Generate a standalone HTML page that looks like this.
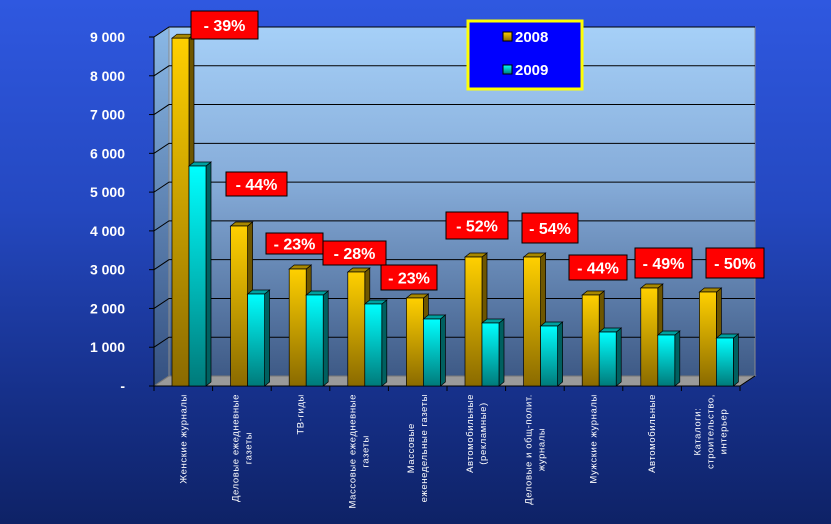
<!DOCTYPE html>
<html><head><meta charset="utf-8">
<style>
html,body{margin:0;padding:0;width:831px;height:524px;overflow:hidden;}
body{background:linear-gradient(to bottom,#2f58e0 0%,#2448c0 40%,#16308a 75%,#0e2266 100%);font-family:"Liberation Sans",sans-serif;}
svg{position:absolute;left:0;top:0;}
</style></head>
<body>
<svg id="chart" width="831" height="524" viewBox="0 0 831 524">
<defs>
<linearGradient id="wallG" x1="0" y1="0" x2="0" y2="1">
<stop offset="0" stop-color="#a6d0f8"/><stop offset="0.45" stop-color="#85abd8"/><stop offset="1" stop-color="#3e5a86"/></linearGradient>
<linearGradient id="leftG" x1="0" y1="0" x2="0" y2="1">
<stop offset="0" stop-color="#8ab8e6"/><stop offset="1" stop-color="#345080"/></linearGradient>
<linearGradient id="g08" x1="0" y1="0" x2="0" y2="1">
<stop offset="0" stop-color="#ffd000"/><stop offset="1" stop-color="#8a6a00"/></linearGradient>
<linearGradient id="g09" x1="0" y1="0" x2="0" y2="1">
<stop offset="0" stop-color="#00ffff"/><stop offset="1" stop-color="#007a7a"/></linearGradient>
</defs>
<g id="frame"></g>
<g id="bars"></g>
<g id="labels"></g>
</svg>
<script>
const categories = [["Женские журналы"],["Деловые ежедневные","газеты"],["ТВ-гиды"],["Массовые ежедневные","газеты"],["Массовые","еженедельные газеты"],["Автомобильные","(рекламные)"],["Деловые и общ-полит.","журналы"],["Мужские журналы"],["Автомобильные"],["Каталоги:","строительство,","интерьер"]];
const values2008 = [8970, 4126, 3017, 2940, 2270, 3326, 3326, 2347, 2527, 2424];
const values2009 = [5673, 2372, 2347, 2115, 1728, 1625, 1547, 1392, 1315, 1238];
const changeLabels = ["- 39%","- 44%","- 23%","- 28%","- 23%","- 52%","- 54%","- 44%","- 49%","- 50%"];
const yTicks = [0,1000,2000,3000,4000,5000,6000,7000,8000,9000];
const yTickLabels = ["-","1 000","2 000","3 000","4 000","5 000","6 000","7 000","8 000","9 000"];

const NS="http://www.w3.org/2000/svg";
const X0=154, X1=740, Y0=386, YMAX=9000, PH=349, DX=15, DY=10;
const cw=(X1-X0)/categories.length;
function yv(v){return Y0 - v*PH/YMAX;}
function xc(i){return X0 + i*cw;}
function mk(tag,attrs,parent){const e=document.createElementNS(NS,tag);for(const k in attrs)e.setAttribute(k,attrs[k]);parent.appendChild(e);return e;}
const frame=document.getElementById('frame'), bars=document.getElementById('bars'), labels=document.getElementById('labels');

let w=mk('polygon',{points:`${X0+DX},${yv(YMAX)-DY} ${X1+DX},${yv(YMAX)-DY} ${X1+DX},${Y0-DY} ${X0+DX},${Y0-DY}`,fill:'url(#wallG)',stroke:'#8a8a8a','stroke-width':1},frame);


let lw=mk('polygon',{points:`${X0},${yv(YMAX)} ${X0+DX},${yv(YMAX)-DY} ${X0+DX},${Y0-DY} ${X0},${Y0}`,fill:'url(#leftG)',stroke:'#8a8a8a','stroke-width':1},frame);


let fl=mk('polygon',{points:`${X0},${Y0} ${X0+DX},${Y0-DY} ${X1+DX},${Y0-DY} ${X1},${Y0}`,fill:'#9a9a9a',stroke:'#777','stroke-width':1},frame);



yTicks.forEach((t,i)=>{
  const y=yv(t);
  if(t>0){
    const g=mk('polyline',{points:`${X0},${y} ${X0+DX},${y-DY} ${X1+DX},${y-DY}`,fill:'none',stroke:'#000','stroke-width':1},frame);
    
    
  }
  mk('line',{x1:X0-5,y1:y,x2:X0,y2:y,stroke:'#000','stroke-width':1},frame);
  const tx=mk('text',{x:125,y:y+5,'text-anchor':'end',fill:'#fff','font-size':14,'font-weight':'bold'},frame);
  tx.textContent=yTickLabels[i];
  
  
});
mk('line',{x1:X0,y1:yv(YMAX),x2:X0,y2:Y0,stroke:'#000','stroke-width':1},frame);
mk('line',{x1:X0,y1:Y0,x2:X1,y2:Y0,stroke:'#000','stroke-width':1},frame);
mk('line',{x1:X1,y1:Y0,x2:X1+DX,y2:Y0-DY,stroke:'#000','stroke-width':1},frame);
for(let i=0;i<=categories.length;i++){mk('line',{x1:xc(i),y1:Y0,x2:xc(i),y2:Y0+5,stroke:'#000','stroke-width':1},frame);}

function bar(x,v,fillF,side,top,name){
  const g=mk('g',{},bars);
  
  
  const y=yv(v), bw=17, d=5, dy=4;
  mk('polygon',{points:`${x+bw},${y} ${x+bw+d},${y-dy} ${x+bw+d},${Y0-dy} ${x+bw},${Y0}`,fill:side,stroke:'#000','stroke-width':0.7},g);
  mk('polygon',{points:`${x},${y} ${x+d},${y-dy} ${x+bw+d},${y-dy} ${x+bw},${y}`,fill:top,stroke:'#000','stroke-width':0.7},g);
  mk('rect',{x:x,y:y,width:bw,height:Y0-y,fill:fillF,stroke:'#000','stroke-width':0.7},g);
}
values2008.forEach((v,i)=>{
  const x=xc(i)+18;
  bar(x,v,'url(#g08)','#6e5600','#a88800','bar-2008');
  bar(x+17,values2009[i],'url(#g09)','#006060','#00a0a0','bar-2009');
});

const boxPos=[[191,11,67,28],[226,172,61,24],[266,233,57,21],[323,241,63,24],[381,265,56,25],[446,212,62,27],[522,213,56,30],[569,255,58,25],[635,248,57,30],[706,248,58,30]];
changeLabels.forEach((s,i)=>{
  const [x,y,w2,h]=boxPos[i];
  const g=mk('g',{},labels);
  
  
  mk('rect',{x:x,y:y,width:w2,height:h,fill:'#ff0000',stroke:'#000','stroke-width':1},g);
  const t=mk('text',{x:x+w2/2,y:y+h/2+6,'text-anchor':'middle',fill:'#fff','font-size':16,'font-weight':'bold'},g);
  t.textContent=s;
});

categories.forEach((lines,i)=>{
  const cx=xc(i)+cw/2, n=lines.length;
  const t=mk('text',{transform:`translate(${cx},394) rotate(-90)`,'text-anchor':'middle',fill:'#fff','font-size':9.5,'letter-spacing':'0.6'},labels);
  
  
  const spans=lines.map((ln,k)=>{
    const ts=mk('tspan',{x:0,y:(k-(n-1)/2)*13+3},t);
    ts.textContent=ln;
    return ts;
  });
  let maxW=0;
  spans.forEach(ts=>{maxW=Math.max(maxW,ts.getComputedTextLength());});
  spans.forEach(ts=>ts.setAttribute('x',-maxW/2));
});

const lg=mk('g',{},labels);


mk('rect',{x:468,y:21,width:114,height:68,fill:'#0000ff',stroke:'#ffff00','stroke-width':3},lg);
[['2008','url(#g08)',38],['2009','url(#g09)',71]].forEach(([s,f,y])=>{
  const e=mk('g',{},lg);
  
  
  mk('rect',{x:503,y:y-6,width:9,height:9,fill:f,stroke:'#000','stroke-width':1},e);
  const t=mk('text',{x:515,y:y+4,fill:'#fff','font-size':15,'font-weight':'bold'},e);
  t.textContent=s;
});
</script>
</body></html>
